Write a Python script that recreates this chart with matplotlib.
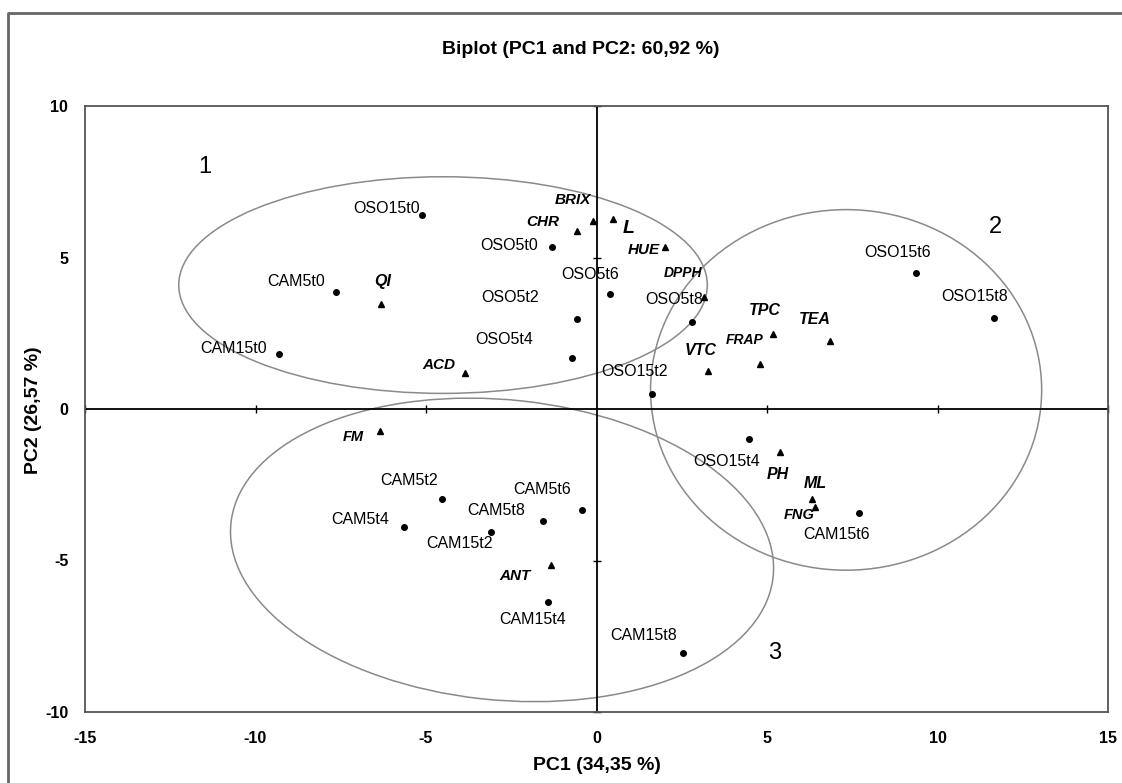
import numpy as np
from matplotlib import pyplot as plt
from matplotlib.patches import Ellipse
from matplotlib.lines import Line2D

# observations (PC1, PC2 scores)
obs_names = ['OSO15t0', 'CAM5t0', 'CAM15t0', 'OSO5t0', 'OSO5t6', 'OSO5t2', 'OSO5t4',
             'OSO5t8', 'OSO15t2', 'OSO15t6', 'OSO15t8', 'OSO15t4', 'CAM15t6',
             'CAM5t2', 'CAM5t4', 'CAM5t8', 'CAM5t6', 'CAM15t2', 'CAM15t4', 'CAM15t8']
obs_pc1 = [-5.13, -7.64, -9.31, -1.30, 0.40, -0.58, -0.72,
           2.81, 1.62, 9.36, 11.67, 4.46, 7.70,
           -4.54, -5.65, -1.56, -0.42, -3.09, -1.42, 2.55]
obs_pc2 = [6.40, 3.85, 1.81, 5.35, 3.81, 2.96, 1.69,
           2.88, 0.49, 4.48, 2.99, -1.00, -3.44,
           -2.96, -3.88, -3.70, -3.32, -4.06, -6.36, -8.06]
# label offsets in pixels
obs_off = [(-35, 7), (-40, 11), (-45, 6), (-43, 1), (-20, 19), (-67, 22), (-68, 18),
           (-18, 22), (-17, 23), (-18, 21), (-20, 22), (-22, -22), (-23, -21),
           (-33, 18), (-44, 7), (-47, 11), (-40, 20), (-32, -11), (-15, -18), (-40, 18)]

# variables (loadings)
var_names = ['BRIX', 'L', 'CHR', 'HUE', 'DPPH', 'VTC', 'TPC', 'FRAP', 'TEA',
             'QI', 'ACD', 'FM', 'ANT', 'PH', 'ML', 'FNG']
var_pc1 = [-0.11, 0.49, -0.58, 2.02, 3.16, 3.28, 5.18, 4.79, 6.84,
           -6.33, -3.86, -6.34, -1.33, 5.37, 6.32, 6.42]
var_pc2 = [6.21, 6.26, 5.88, 5.36, 3.71, 1.25, 2.47, 1.48, 2.24,
           3.46, 1.18, -0.73, -5.14, -1.43, -2.96, -3.23]
var_off = [(-20, 21), (15, -9), (-34, 9), (-22, -3), (-21, 24), (-8, 21), (-8, 24),
           (-15, 24), (-15, 22), (2, 23), (-26, 8), (-27, -6), (-36, -11),
           (-2, -22), (3, 15), (-16, -8)]
var_size = [11, 14, 11, 11, 10, 11.5, 11.5, 10, 11.5, 11.5, 11, 10.5, 11, 11.5, 11.5, 10.5]

# groups
grp_names = ['1', '2', '3']
grp_cx = [-4.50, 7.32, -2.77]
grp_cy = [4.09, 0.63, -4.65]
grp_w = [15.5, 11.47, 16.0]
grp_h = [7.15, 11.9, 9.9]
grp_ang = [0, 0, -7]
grp_lx = [-11.5, 11.69, 5.23]
grp_ly = [7.98, 6.02, -8.04]

xticks = [-15, -10, -5, 0, 5, 10, 15]
yticks = [-10, -5, 0, 5, 10]

plt.rcParams['font.family'] = ['Liberation Sans', 'DejaVu Sans']
plt.rcParams['axes.unicode_minus'] = False

fig = plt.figure(figsize=(11.22, 7.83), dpi=100)
ax = fig.add_axes([85 / 1122, 1 - 712 / 783, 1023 / 1122, 606 / 783])

for i in range(len(grp_names)):
    e = Ellipse((grp_cx[i], grp_cy[i]), grp_w[i], grp_h[i], angle=grp_ang[i],
                fill=False, edgecolor='#8a8a8a', linewidth=1.1)
    ax.add_patch(e)
    ax.text(grp_lx[i], grp_ly[i], grp_names[i], fontsize=17, ha='center', va='center')

ax.axhline(0, color='black', linewidth=1.3)
ax.axvline(0, color='black', linewidth=1.3)
ax.plot([t for t in xticks if t != 0], [0] * 6, linestyle='none', marker='|',
        markersize=6, color='black', clip_on=False)
ax.plot([0] * 4, [t for t in yticks if t != 0], linestyle='none', marker='_',
        markersize=6, color='black', clip_on=False)

ax.plot(obs_pc1, obs_pc2, 'o', color='black', markersize=4)
ax.plot(var_pc1, var_pc2, '^', color='black', markersize=4.5)

for i, name in enumerate(obs_names):
    ax.annotate(name, (obs_pc1[i], obs_pc2[i]), xytext=obs_off[i], textcoords='offset pixels',
                ha='center', va='center', fontsize=11.5)

for i, name in enumerate(var_names):
    ax.annotate(name, (var_pc1[i], var_pc2[i]), xytext=var_off[i], textcoords='offset pixels',
                ha='center', va='center', fontsize=var_size[i], fontweight='bold', style='italic')

ax.set_xlim(-15, 15)
ax.set_ylim(-10, 10)
ax.set_xticks(xticks)
ax.set_yticks(yticks)
ax.tick_params(length=0, labelsize=11.5)
ax.tick_params(axis='x', pad=14)
ax.tick_params(axis='y', pad=12)
for lab in ax.get_xticklabels() + ax.get_yticklabels():
    lab.set_fontweight('bold')
for s in ax.spines.values():
    s.set_color('#555555')
    s.set_linewidth(1.3)

fig.text(581 / 1122, 1 - 50 / 783, 'Biplot (PC1 and PC2: 60,92 %)', ha='center', va='center',
         fontsize=14, fontweight='bold')
fig.text(597 / 1122, 1 - 766 / 783, 'PC1 (34,35 %)', ha='center', va='center',
         fontsize=14, fontweight='bold')
fig.text(34 / 1122, 1 - 410 / 783, 'PC2 (26,57 %)', ha='center', va='center',
         fontsize=14, fontweight='bold', rotation=90)

# outer frame
fig.add_artist(Line2D([8 / 1122, 8 / 1122, 1], [0, 1 - 13 / 783, 1 - 13 / 783],
                      color='#666666', linewidth=2))

plt.savefig('out.png', dpi=100)
plt.close()
